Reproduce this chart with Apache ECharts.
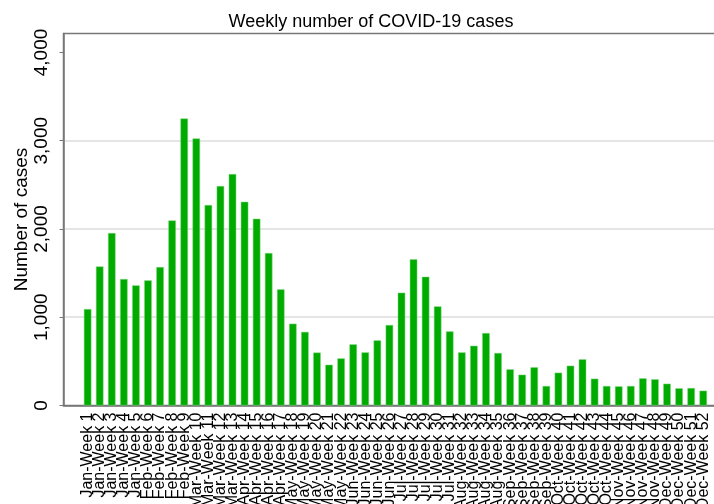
<!DOCTYPE html>
<html>
<head>
<meta charset="utf-8">
<script src="https://cdn.jsdelivr.net/npm/echarts@6/dist/echarts.min.js"></script>
<style>
  html, body { margin: 0; padding: 0; background: #fff; overflow: hidden; }
  /* a bit wider than the window so the right side of the frame falls off-screen */
  #chart { width: 730px; height: 504px; }
</style>
</head>
<body>
<div id="chart"></div>
<script>
  // week labels
  var months = ['Jan', 'Jan', 'Jan', 'Jan', 'Jan', 'Feb', 'Feb', 'Feb', 'Feb', 'Mar', 'Mar', 'Mar', 'Mar',
    'Apr', 'Apr', 'Apr', 'Apr', 'May', 'May', 'May', 'May', 'May', 'Jun', 'Jun', 'Jun', 'Jun',
    'Jul', 'Jul', 'Jul', 'Jul', 'Jul', 'Aug', 'Aug', 'Aug', 'Aug', 'Sep', 'Sep', 'Sep', 'Sep',
    'Oct', 'Oct', 'Oct', 'Oct', 'Oct', 'Nov', 'Nov', 'Nov', 'Nov', 'Dec', 'Dec', 'Dec', 'Dec'];
  var weeks = months.map(function (m, i) { return m + '-Week ' + (i + 1); });

  var cases = [1093, 1576, 1954, 1433, 1361, 1418, 1568, 2097, 3252, 3026,
    2271, 2486, 2622, 2308, 2116, 1727, 1316, 927, 834, 600,
    462, 534, 693, 602, 738, 912, 1278, 1656, 1459, 1123,
    840, 602, 677, 821, 595, 410, 349, 433, 221, 372,
    451, 523, 304, 221, 217, 221, 308, 297, 247, 195,
    198, 168];

  var yTicks = [0, 1000, 2000, 3000, 4000];

  // blank slots so the bars sit away from the frame
  var cats = ['', ''].concat(weeks, ['']);
  var vals = [null, null].concat(cases, [null]);

  var myChart = echarts.init(document.getElementById('chart'));
  var grey = '#777777';
  var option = {
    animation: false,
    textStyle: { fontFamily: 'Liberation Sans, Arial, sans-serif' },
    title: {
      text: 'Weekly number of COVID-19 cases',
      left: 366,
      top: 8,
      textAlign: 'center',
      textStyle: { fontSize: 18, fontWeight: 'normal', color: '#000' }
    },
    grid: {
      left: 63.5, top: 33.5, bottom: 98.5, right: 14.7,
      containLabel: false,
      outerBoundsMode: 'none',
      show: true, borderColor: grey, borderWidth: 1.5
    },
    xAxis: {
      type: 'category',
      data: cats,
      boundaryGap: false,
      axisTick: { show: false },
      axisLine: { lineStyle: { color: grey, width: 1.5 } },
      axisLabel: {
        rotate: 90,
        interval: 0,
        hideOverlap: false,
        color: '#000',
        fontSize: 16,
        margin: 7
      }
    },
    yAxis: {
      type: 'value',
      min: 0,
      max: 4215,
      interval: 1000,
      name: 'Number of cases',
      nameLocation: 'middle',
      nameGap: 32,
      nameMoveOverlap: false,
      nameTextStyle: { fontSize: 19, color: '#000' },
      axisLine: { show: true, lineStyle: { color: grey, width: 1.5 } },
      axisTick: { show: true, length: 4, customValues: yTicks, lineStyle: { color: grey } },
      axisLabel: {
        rotate: 90,
        color: '#000',
        fontSize: 19,
        margin: 12,
        customValues: yTicks,
        formatter: function (v) { return v.toLocaleString('en-US'); }
      },
      splitLine: {
        show: true,
        lineStyle: { color: ['transparent', '#dddddd', '#dddddd', '#dddddd', 'transparent', 'transparent'], width: 1.5 }
      }
    },
    series: [{
      type: 'bar',
      data: vals,
      barWidth: 7.5,
      itemStyle: { color: '#00ab00', borderColor: '#7fd57f', borderWidth: 0.5 }
    }]
  };
  myChart.setOption(option);
</script>
</body>
</html>
